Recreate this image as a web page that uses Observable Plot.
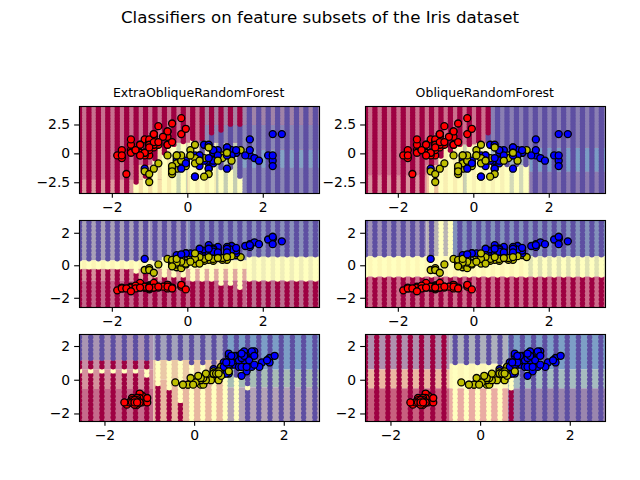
<!DOCTYPE html>
<html>
<head>
<meta charset="utf-8">
<script src="https://cdn.jsdelivr.net/npm/d3@7"></script>
<script src="https://cdn.jsdelivr.net/npm/@observablehq/plot@0.6"></script>
<style>
html,body{margin:0;padding:0;background:#fff;font-family:"DejaVu Sans",sans-serif;color:#000}
#page{position:relative;width:640px;height:480px;overflow:hidden}
.t{position:absolute;white-space:nowrap;transform:translate(-50%,-50%);line-height:1}
.p{position:absolute}
</style>
</head>
<body>
<div id="page"></div>
<script>
const suptitle = "Classifiers on feature subsets of the Iris dataset";
const modelNames = ["ExtraObliqueRandomForest", "ObliqueRandomForest"];

const sepalLength = [5.1,4.9,4.7,4.6,5.0,5.4,4.6,5.0,4.4,4.9,5.4,4.8,4.8,4.3,5.8,5.7,5.4,5.1,5.7,5.1,5.4,5.1,4.6,5.1,4.8,5.0,5.0,5.2,5.2,4.7,4.8,5.4,5.2,5.5,4.9,5.0,5.5,4.9,4.4,5.1,5.0,4.5,4.4,5.0,5.1,4.8,5.1,4.6,5.3,5.0,
7.0,6.4,6.9,5.5,6.5,5.7,6.3,4.9,6.6,5.2,5.0,5.9,6.0,6.1,5.6,6.7,5.6,5.8,6.2,5.6,5.9,6.1,6.3,6.1,6.4,6.6,6.8,6.7,6.0,5.7,5.5,5.5,5.8,6.0,5.4,6.0,6.7,6.3,5.6,5.5,5.5,6.1,5.8,5.0,5.6,5.7,5.7,6.2,5.1,5.7,
6.3,5.8,7.1,6.3,6.5,7.6,4.9,7.3,6.7,7.2,6.5,6.4,6.8,5.7,5.8,6.4,6.5,7.7,7.7,6.0,6.9,5.6,7.7,6.3,6.7,7.2,6.2,6.1,6.4,7.2,7.4,7.9,6.4,6.3,6.1,7.7,6.3,6.4,6.0,6.9,6.7,6.9,5.8,6.8,6.7,6.7,6.3,6.5,6.2,5.9];
const sepalWidth = [3.5,3.0,3.2,3.1,3.6,3.9,3.4,3.4,2.9,3.1,3.7,3.4,3.0,3.0,4.0,4.4,3.9,3.5,3.8,3.8,3.4,3.7,3.6,3.3,3.4,3.0,3.4,3.5,3.4,3.2,3.1,3.4,4.1,4.2,3.1,3.2,3.5,3.6,3.0,3.4,3.5,2.3,3.2,3.5,3.8,3.0,3.8,3.2,3.7,3.3,
3.2,3.2,3.1,2.3,2.8,2.8,3.3,2.4,2.9,2.7,2.0,3.0,2.2,2.9,2.9,3.1,3.0,2.7,2.2,2.5,3.2,2.8,2.5,2.8,2.9,3.0,2.8,3.0,2.9,2.6,2.4,2.4,2.7,2.7,3.0,3.4,3.1,2.3,3.0,2.5,2.6,3.0,2.6,2.3,2.7,3.0,2.9,2.9,2.5,2.8,
3.3,2.7,3.0,2.9,3.0,3.0,2.5,2.9,2.5,3.6,3.2,2.7,3.0,2.5,2.8,3.2,3.0,3.8,2.6,2.2,3.2,2.8,2.8,2.7,3.3,3.2,2.8,3.0,2.8,3.0,2.8,3.8,2.8,2.8,2.6,3.0,3.4,3.1,3.0,3.1,3.1,3.1,2.7,3.2,3.3,3.0,2.5,3.0,3.4,3.0];
const petalLength = [1.4,1.4,1.3,1.5,1.4,1.7,1.4,1.5,1.4,1.5,1.5,1.6,1.4,1.1,1.2,1.5,1.3,1.4,1.7,1.5,1.7,1.5,1.0,1.7,1.9,1.6,1.6,1.5,1.4,1.6,1.6,1.5,1.5,1.4,1.5,1.2,1.3,1.4,1.3,1.5,1.3,1.3,1.3,1.6,1.9,1.4,1.6,1.4,1.5,1.4,
4.7,4.5,4.9,4.0,4.6,4.5,4.7,3.3,4.6,3.9,3.5,4.2,4.0,4.7,3.6,4.4,4.5,4.1,4.5,3.9,4.8,4.0,4.9,4.7,4.3,4.4,4.8,5.0,4.5,3.5,3.8,3.7,3.9,5.1,4.5,4.5,4.7,4.4,4.1,4.0,4.4,4.6,4.0,3.3,4.2,4.2,4.2,4.3,3.0,4.1,
6.0,5.1,5.9,5.6,5.8,6.6,4.5,6.3,5.8,6.1,5.1,5.3,5.5,5.0,5.1,5.3,5.5,6.7,6.9,5.0,5.7,4.9,6.7,4.9,5.7,6.0,4.8,4.9,5.6,5.8,6.1,6.4,5.6,5.1,5.6,6.1,5.6,5.5,4.8,5.4,5.6,5.1,5.1,5.9,5.7,5.2,5.0,5.2,5.4,5.1];
const petalWidth = [0.2,0.2,0.2,0.2,0.2,0.4,0.3,0.2,0.2,0.1,0.2,0.2,0.1,0.1,0.2,0.4,0.4,0.3,0.3,0.3,0.2,0.4,0.2,0.5,0.2,0.2,0.4,0.2,0.2,0.2,0.2,0.4,0.1,0.2,0.2,0.2,0.2,0.1,0.2,0.2,0.3,0.3,0.2,0.6,0.4,0.3,0.2,0.2,0.2,0.2,
1.4,1.5,1.5,1.3,1.5,1.3,1.6,1.0,1.3,1.4,1.0,1.5,1.0,1.4,1.3,1.4,1.5,1.0,1.5,1.1,1.8,1.3,1.5,1.2,1.3,1.4,1.4,1.7,1.5,1.0,1.1,1.0,1.2,1.6,1.5,1.6,1.5,1.3,1.3,1.3,1.2,1.4,1.2,1.0,1.3,1.2,1.3,1.3,1.1,1.3,
2.5,1.9,2.1,1.8,2.2,2.1,1.7,1.8,1.8,2.5,2.0,1.9,2.1,2.0,2.4,2.3,1.8,2.2,2.3,1.5,2.3,2.0,2.0,1.8,2.1,1.8,1.8,1.8,2.1,1.6,1.9,2.0,2.2,1.5,1.4,2.3,2.4,1.8,1.8,2.1,2.4,2.3,1.9,2.3,2.5,2.3,1.9,2.0,2.3,1.8];
const speciesCounts = [50, 50, 50];
const standardize = {sl: [5.8433, 0.8253], sw: [3.0573, 0.4344], pl: [3.758, 1.7594], pw: [1.1993, 0.7597]};

const classFill = {r: "#9e0142", y: "#ffffbf", b: "#5e4fa2"};
const pointFill = ["#ff0000", "#bfbf00", "#0000ff"];

// Predicted class on the coarse grid: one string per column, runs counted from the bottom row.
const gridExtraSepal = ["r31","r31","r31","r31","r31","r31","y4r27","y6r25","y12r19","y14r17","y17r14","y18r13","y19r12","y14b5r12","y13b8r10","y9b13r9","y9b15r7","y6b18r7","b31","b31","b31","b31","b31","b31","b31","b31"];
const gridObliqueSepal = ["r31","r31","r31","r31","r31","r31","r31","y9r22","y13r18","y15r16","y17r14","y17r14","y18r13","y18b3r10","y17b14","y10b21","y10b21","y10b21","b31","b31","b31","b31","b31","b31","b31","b31"];
const gridExtraPetal = ["r10y2b10","r10y2b10","r10y2b10","r10y2b10","r10y2b10","r10y2b10","r9y3b10","r9y3b10","r8y4b10","r8y5b9","r8y5b9","r8y5b9","r7y6b9","r7y6b9","r7y6b9","r6y7b9","r6y7b9","r5y8b9","r7y6b9","r7y6b9","r7y6b9","r7y6b9","r7y6b9","r7y6b9","r7y6b9","r7y6b9"];
const gridObliquePetal = ["r8y5b9","r8y5b9","r8y5b9","r8y5b9","r8y5b9","r8y5b9","r8y5b9","r8y5b9","r8y14","r8y14","r8y5b9","r8y5b9","r8y5b9","r8y5b9","r8y5b9","r8y5b9","r8y5b9","r8y5b9","r8y5b9","r8y5b9","r8y5b9","r8y5b9","r8y5b9","r8y5b9","r8y5b9","r8y5b9"];
const gridExtraLeaf = ["r12y1r2b6","r12y1r2b6","r12y1r2b6","r12y1r2b6","r12y1r2b6","r12y1r2b6","r11y2r2b6","r9y6b6","r8y7b6","r5y10b6","y14b7","y14b7","y13b8","y11b10","y11b10","b8y1b12","b21","b21","b21","b21","b21","b21"];
const gridObliqueLeaf = ["r21","r21","r21","r21","r21","r21","r21","r21","y14b7","y14b7","y14b7","y14b7","y14b7","r8y3b10","b21","b21","b21","b21","b21","b21","b21","b21"];

// Blended backdrop of the ensemble: x1, x2, y1, y2 and the colour.
const backExtraSepal = [
 [-2.87,3.49,-3.43,4.1,"#c8708f"],[-2.87,-1.43,-3.43,-2.27,"#dc9a9f"],[-1.43,-0.64,-3.43,-2.27,"#f6dfa8"],
 [-0.64,-0.33,-3.43,0.92,"#f8edb0"],[-0.33,0,-3.43,0.92,"#c9d3b2"],[0,0.76,-3.43,0.92,"#f6efb4"],[0.76,1.4,-3.43,0.92,"#c5cdb2"],
 [-0.81,-0.64,-2.27,0.92,"#f0dca8"],[-1.43,-0.81,-2.27,-1,"#e9c0a0"],
 [0.43,1.4,0.92,2.5,"#8f86b0"],[0.43,1.4,2.5,4.1,"#a97f9f"],[1.4,3.49,-3.43,-1.26,"#8a86b5"],
 [1.4,3.49,-1.26,0.34,"#85a2c4"],[1.4,3.49,0.34,2.5,"#8a86b5"],[1.4,3.49,2.5,4.1,"#a083a8"]];
const backObliqueSepal = [
 [-2.87,3.49,-3.43,4.1,"#cc6f8d"],[-2.87,-1.24,-3.43,-1.9,"#d9929e"],[-1.24,-0.8,-3.43,-1,"#eec29f"],
 [-0.8,-0.27,-3.43,0.77,"#f9efb2"],[-0.27,-0.09,-3.43,0.77,"#c9d1b3"],[-0.09,0.43,-3.43,0.77,"#f8f2b6"],
 [0.43,0.89,-3.43,-1,"#f8f2b6"],[0.89,1.49,-3.43,-1,"#d4d9b8"],[0.43,1.49,-1,0.5,"#a0b0bc"],
 [0.43,3.49,0.5,4.1,"#8a7fb3"],[1.49,3.49,-3.43,-1.6,"#8b7bb0"],[1.49,3.49,-1.6,0.5,"#7c9cc4"]];
const backExtraPetal = [
 [-2.87,-1,0.3,2.79,"#a8a0b8"],[-1,0,0.3,2.79,"#9f96ba"],[0,3.49,0.3,2.79,"#8a90bb"],
 [-2.87,3.49,-0.22,0.3,"#fcf5b6"],[1.57,3.49,-0.93,0.54,"#f0eeb9"],[-2.87,-1.4,-0.93,-0.22,"#d68f9a"],
 [-1.4,1.57,-0.93,-0.22,"#e0a8a0"],[-2.87,1.57,-2.57,-0.93,"#c4668a"],[1.57,3.49,-2.57,-0.93,"#bc6f90"]];
const backObliquePetal = [
 [-2.87,-1.24,0.56,2.79,"#9f92b8"],[-1.24,-0.54,0.56,2.79,"#b9b3b3"],[-0.54,3.49,0.56,2.79,"#8392bb"],
 [-2.87,1.41,-0.69,0.56,"#fdf7b7"],[1.41,3.49,-0.69,0.56,"#dfe2b4"],[-2.87,3.49,-2.57,-0.69,"#cc6c8b"]];
const backExtraLeaf = [
 [-2.57,-0.91,1.17,2.72,"#a995b3"],[-2.57,-0.91,0.62,1.17,"#c98ea5"],[-2.57,-0.91,-0.55,0.62,"#d5919d"],[-2.57,-0.91,-2.45,-0.55,"#c66a8b"],
 [-0.91,0.65,1.17,2.72,"#a3a3bb"],[-0.91,0.65,0,1.17,"#eac9a7"],[-0.91,0.65,-2.45,0,"#e8b7a0"],
 [0.65,2.79,0.6,2.72,"#7c9ec6"],[0.65,2.79,-0.45,0.6,"#a8bdb5"],[0.65,2.79,-2.45,-0.45,"#b4a3b5"]];
const backObliqueLeaf = [
 [-2.57,-0.68,0.62,2.72,"#b08fae"],[-2.57,-0.68,-0.51,0.62,"#ebb7a2"],[-2.57,-0.68,-2.45,-0.51,"#c8607f"],
 [-0.68,0.62,0.95,2.72,"#aeb0bc"],[-0.68,0.62,-0.51,0.95,"#fdf7b9"],[-0.68,0.62,-2.45,-0.51,"#eaaca3"],
 [0.62,2.79,0.62,2.72,"#7d9fc6"],[0.62,2.79,-0.51,0.62,"#a6bcbf"],[0.62,2.79,-2.45,-0.51,"#9a86ae"]];

const panels = [
 {title: modelNames[0], fx: "sl", fy: "sw", grid: gridExtraSepal, back: backExtraSepal, xd: [-2.87,3.49], yd: [-3.43,4.1], yt: [-2.5,0,2.5], xt: [-2,0,2], left: 78.6, top: 105.8},
 {title: modelNames[1], fx: "sl", fy: "sw", grid: gridObliqueSepal, back: backObliqueSepal, xd: [-2.87,3.49], yd: [-3.43,4.1], yt: [-2.5,0,2.5], xt: [-2,0,2], left: 364.8, top: 105.8},
 {fx: "sl", fy: "pl", grid: gridExtraPetal, back: backExtraPetal, xd: [-2.87,3.49], yd: [-2.568,2.786], yt: [-2,0,2], xt: [-2,0,2], left: 78.6, top: 219.9},
 {fx: "sl", fy: "pl", grid: gridObliquePetal, back: backObliquePetal, xd: [-2.87,3.49], yd: [-2.568,2.786], yt: [-2,0,2], xt: [-2,0,2], left: 364.8, top: 219.9},
 {fx: "pl", fy: "pw", grid: gridExtraLeaf, back: backExtraLeaf, xd: [-2.568,2.786], yd: [-2.447,2.712], yt: [-2,0,2], xt: [-2,0,2], left: 78.6, top: 334},
 {fx: "pl", fy: "pw", grid: gridObliqueLeaf, back: backObliqueLeaf, xd: [-2.568,2.786], yd: [-2.447,2.712], yt: [-2,0,2], xt: [-2,0,2], left: 364.8, top: 334}
];

const features = {sl: sepalLength, sw: sepalWidth, pl: petalLength, pw: petalWidth};
const classOf = i => i < speciesCounts[0] ? 0 : i < speciesCounts[0] + speciesCounts[1] ? 1 : 2;
const z = (key, i) => (features[key][i] - standardize[key][0]) / standardize[key][1];
// The reference draws the samples in shuffled order, so classes overlap each other.
const drawOrder = d3.range(150).sort((a, b) => (a * 61) % 150 - (b * 61) % 150);

const gridDots = p => {
  const out = [];
  p.grid.forEach((col, k) => {
    let j = 0;
    for (const [, c, n] of col.matchAll(/([ryb])(\d+)/g))
      for (let m = 0; m < +n; m++, j++)
        out.push({x: p.xd[0] + 0.25 * k, y: p.yd[0] + 0.25 * j, c});
  });
  return out;
};
const fmt = d => d3.format(Number.isInteger(d) ? "d" : ".1f")(d).replace("-", "\u2212");
const page = document.getElementById("page");
const add = (cls, text, x, y, size) => {
  const e = document.createElement("div");
  e.className = cls; e.textContent = text;
  e.style.cssText = `left:${x}px;top:${y}px;font-size:${size}px`;
  page.appendChild(e);
};
add("t", suptitle, 320, 18, 16.67);

const W = 240, H = 87, ML = 45, MT = 6, MR = 10, MB = 26;
for (const p of panels) {
  const pts = drawOrder.map(i => ({x: z(p.fx, i), y: z(p.fy, i), c: classOf(i)}));
  const svg = Plot.plot({
    width: ML + W + MR, height: MT + H + MB,
    marginLeft: ML, marginRight: MR, marginTop: MT, marginBottom: MB,
    x: {domain: p.xd}, y: {domain: p.yd},
    style: {background: "transparent", fontFamily: "DejaVu Sans", fontSize: "13.9px", color: "#000", overflow: "visible"},
    marks: [
      Plot.rect(p.back, {x1: "0", x2: "1", y1: "2", y2: "3", fill: d => d[4], clip: true}),
      Plot.dot(gridDots(p), {x: "x", y: "y", r: 2.69, fill: d => classFill[d.c], stroke: "none", clip: true}),
      Plot.dot(pts, {x: "x", y: "y", r: 3.5, fill: d => pointFill[d.c], stroke: "#000", strokeWidth: 1.3, clip: true}),
      Plot.frame({stroke: "#000", strokeWidth: 1.11}),
      Plot.axisX({ticks: p.xt, tickFormat: fmt, tickSize: 4.86, tickPadding: 4, label: null, fontSize: 13.9, strokeWidth: 1.11}),
      Plot.axisY({ticks: p.yt, tickFormat: fmt, tickSize: 4.86, tickPadding: 4.5, label: null, fontSize: 13.9, strokeWidth: 1.11})
    ]
  });
  const holder = document.createElement("div");
  holder.className = "p";
  holder.style.cssText = `left:${p.left - ML}px;top:${p.top - MT}px`;
  holder.appendChild(svg);
  page.appendChild(holder);
  if (p.title) add("t", p.title, p.left + W / 2, 92.8, 12.5);
}
</script>
</body>
</html>
